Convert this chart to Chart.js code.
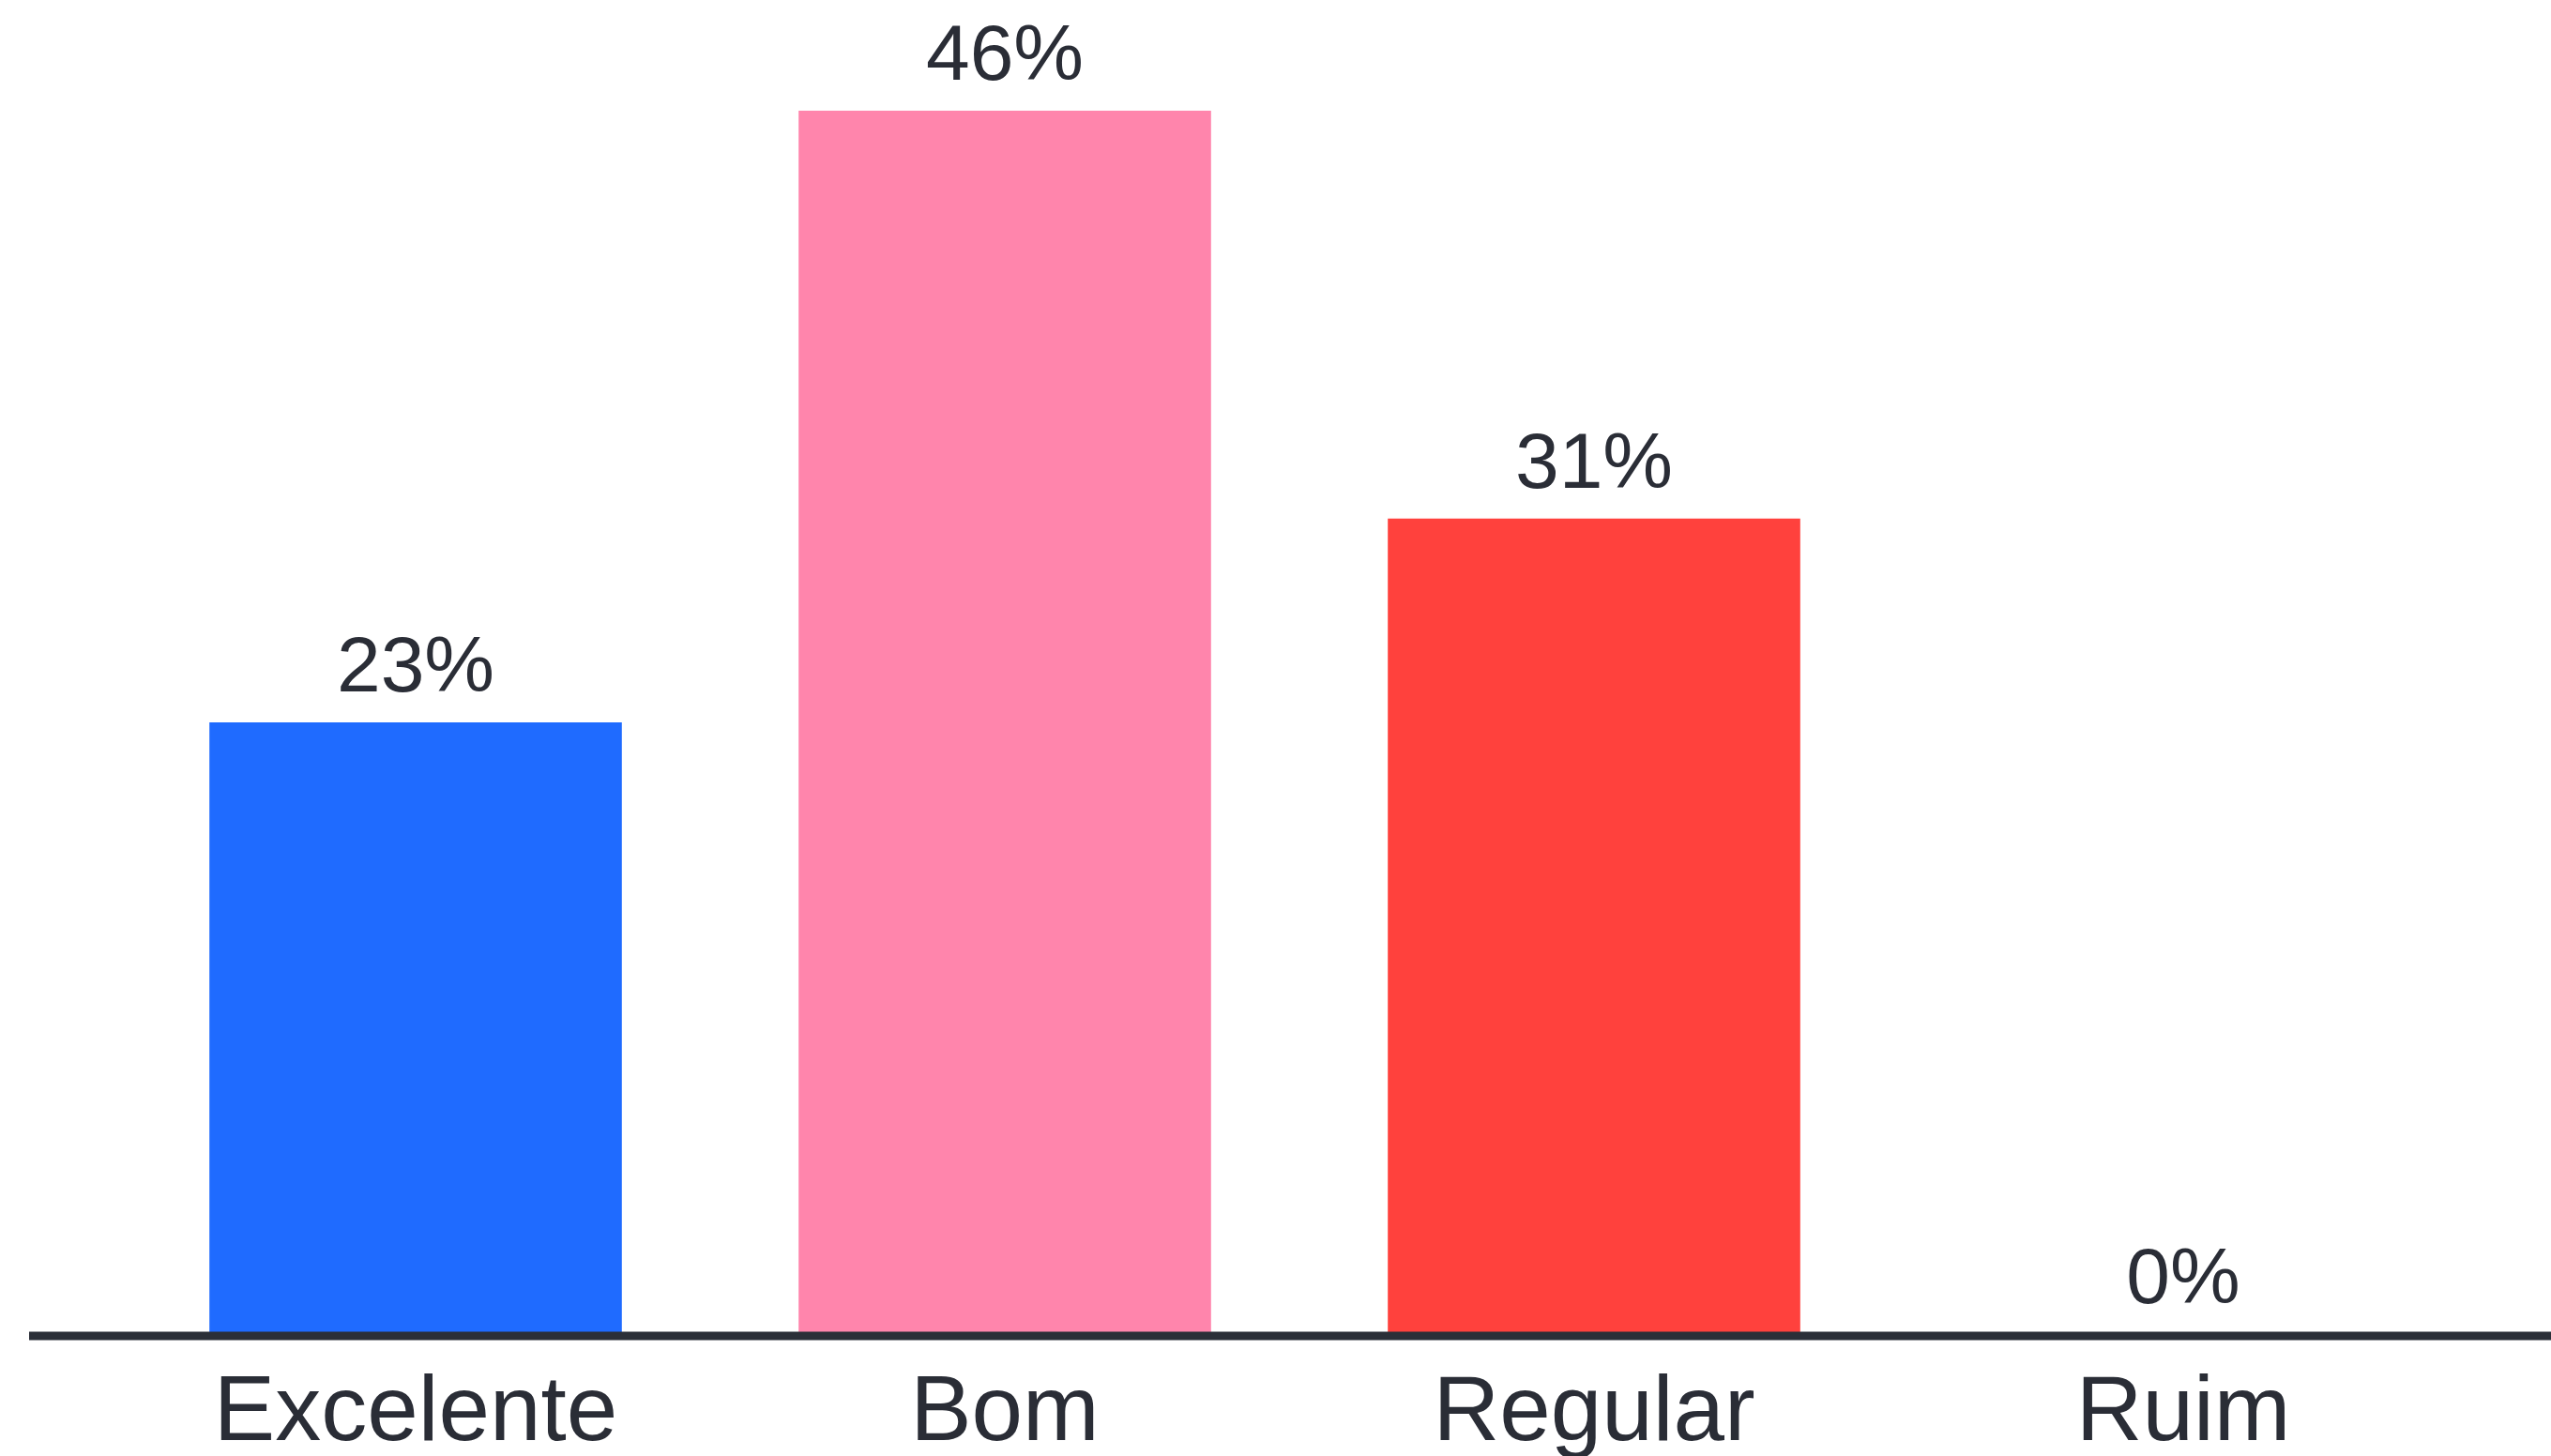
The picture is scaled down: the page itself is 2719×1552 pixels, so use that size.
<!DOCTYPE html>
<html>
<head>
<meta charset="utf-8">
<script src="https://cdn.jsdelivr.net/npm/chart.js@4/dist/chart.umd.min.js"></script>
<style>
html,body{margin:0;padding:0;background:#ffffff;}
#wrap{width:2719px;height:1552px;position:relative;}
</style>
</head>
<body>
<div id="wrap"><canvas id="c" width="2719" height="1552"></canvas></div>
<script>
const categories = ["Excelente", "Bom", "Regular", "Ruim"];
const values = [23.08, 46.15, 30.77, 0];
const barColors = ["#1f6bff", "#ff85ac", "#ff413d", "#ff413d"];
const valueLabels = ["23%", "46%", "31%", "0%"];

const FONT = "'Liberation Sans', Arial, sans-serif";
const TEXT = "#2a2d36";

const baselinePlugin = {
  id: 'baseline',
  afterDatasetsDraw(chart) {
    const ctx = chart.ctx;
    const y = chart.scales.y.getPixelForValue(0);
    ctx.save();
    ctx.strokeStyle = "#2b2f38";
    ctx.lineWidth = 9;
    ctx.beginPath();
    ctx.moveTo(31, y + 2);
    ctx.lineTo(chart.width, y + 2);
    ctx.stroke();
    ctx.restore();
  }
};

const valueLabelPlugin = {
  id: 'valueLabels',
  afterDatasetsDraw(chart) {
    const ctx = chart.ctx;
    const meta = chart.getDatasetMeta(0);
    ctx.save();
    ctx.fillStyle = TEXT;
    ctx.font = "84px " + FONT;
    ctx.textAlign = "center";
    ctx.textBaseline = "alphabetic";
    meta.data.forEach((bar, i) => {
      ctx.fillText(valueLabels[i], bar.x, bar.y - 33);
    });
    ctx.restore();
  }
};

new Chart(document.getElementById('c'), {
  type: 'bar',
  data: {
    labels: categories,
    datasets: [{
      data: values,
      backgroundColor: barColors,
      borderWidth: 0,
      categoryPercentage: 1,
      barPercentage: 0.7
    }]
  },
  options: {
    responsive: false,
    animation: false,
    devicePixelRatio: 1,
    layout: { padding: { left: 129, right: 78, top: 0, bottom: 0 } },
    plugins: { legend: { display: false }, tooltip: { enabled: false } },
    scales: {
      y: {
        display: false,
        min: 0,
        max: 50.33
      },
      x: {
        grid: { display: false, drawTicks: false },
        border: { display: false },
        ticks: {
          color: TEXT,
          font: { family: FONT, size: 98 },
          padding: 27,
          maxRotation: 0
        },
        afterFit(scale) { scale.height = 130; }
      }
    }
  },
  plugins: [baselinePlugin, valueLabelPlugin]
});
</script>
</body>
</html>
